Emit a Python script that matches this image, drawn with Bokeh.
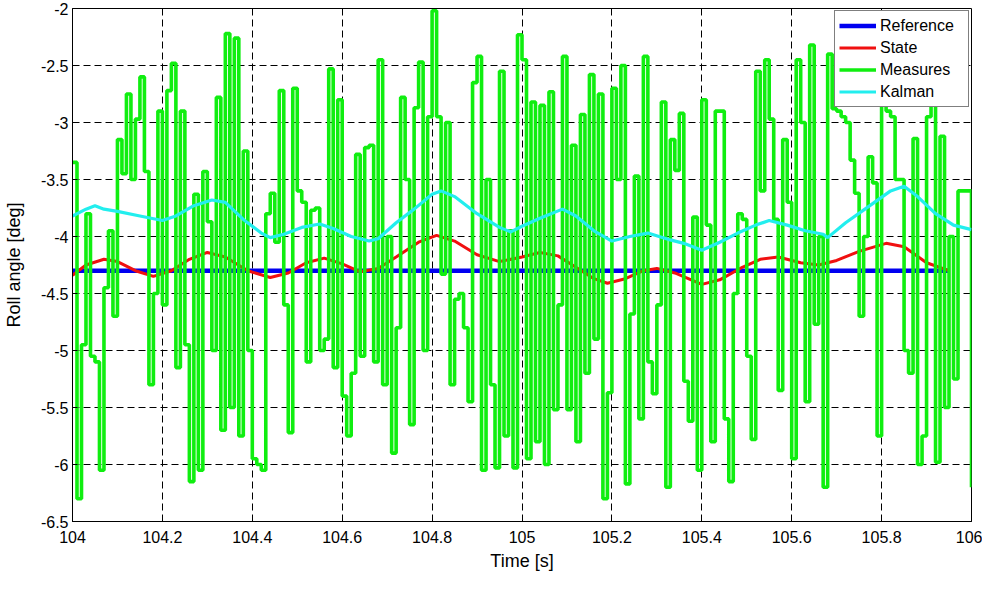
import numpy as np
from bokeh.plotting import figure
from bokeh.models import (FixedTicker, CustomJSTickFormatter, Legend, LegendItem,
                          Range1d)
from bokeh.embed import file_html
from bokeh.resources import INLINE

# ---------------- data ----------------
x_ticks = [104.0, 104.2, 104.4, 104.6, 104.8, 105.0, 105.2, 105.4, 105.6, 105.8, 106.0]
y_ticks = [-6.5, -6.0, -5.5, -5.0, -4.5, -4.0, -3.5, -3.0, -2.5, -2.0]

ref_t = [104.0, 105.95]
ref_v = [-4.3, -4.3]

state_t = [104.00, 104.03, 104.07, 104.10, 104.14, 104.18, 104.22, 104.26, 104.30, 104.34,
           104.39, 104.44, 104.48, 104.52, 104.56, 104.60, 104.64, 104.68, 104.72, 104.77,
           104.81, 104.85, 104.90, 104.95, 105.00, 105.04, 105.08, 105.12, 105.16, 105.19,
           105.23, 105.27, 105.30, 105.34, 105.40, 105.44, 105.49, 105.53, 105.57, 105.62,
           105.66, 105.70, 105.75, 105.81, 105.85, 105.90, 105.95]
state_v = [-4.34, -4.25, -4.20, -4.22, -4.30, -4.35, -4.30, -4.20, -4.14, -4.18,
           -4.30, -4.36, -4.32, -4.23, -4.19, -4.24, -4.31, -4.28, -4.18, -4.05,
           -3.99, -4.04, -4.16, -4.22, -4.18, -4.14, -4.17, -4.27, -4.37, -4.41,
           -4.37, -4.30, -4.28, -4.32, -4.42, -4.38, -4.27, -4.20, -4.18, -4.23,
           -4.25, -4.21, -4.13, -4.06, -4.09, -4.23, -4.30]

meas_t0 = 104.0
meas_dt = 0.01
meas_v = [
    # 104.00 - 104.33
    -3.35, -6.3, -4.95, -3.8, -5.05, -5.1, -6.05, -4.45, -3.95, -4.7,
    -3.15, -3.45, -2.75, -3.5, -2.97, -2.6, -3.43, -5.3, -4.5, -2.9,
    -4.6, -2.72, -2.48, -5.15, -2.9, -4.95, -6.15, -3.63, -6.05, -3.43,
    -3.87, -5.0, -2.78, -5.7,
    # 104.34 - 104.65
    -2.22, -5.5, -2.26, -5.75, -3.25, -5.0, -5.95, -6.0, -6.05, -3.8,
    -3.62, -4.05, -2.72, -4.6, -5.72, -2.7, -3.6, -3.7, -5.1, -3.77,
    -3.75, -5.0, -4.9, -2.53, -5.15, -2.8, -5.4, -5.75, -5.2, -3.28,
    -5.05, -3.22,
    # 104.66 - 104.99
    -3.2, -5.1, -2.45, -5.3, -4.0, -5.9, -4.8, -2.78, -3.5, -5.65,
    -2.87, -2.47, -5.0, -2.95, -2.02, -2.95, -4.33, -3.0, -5.3, -4.55,
    -4.5, -4.8, -5.45, -2.65, -2.42, -6.05, -3.5, -5.3, -6.03, -2.55,
    -5.75, -3.95, -6.03, -2.23,
    # 105.00 - 105.33
    -2.45, -5.95, -2.82, -5.8, -2.85, -6.0, -2.73, -5.52, -4.6, -2.42,
    -5.52, -3.2, -5.8, -2.93, -5.2, -2.58, -4.9, -2.75, -6.3, -5.37,
    -2.7, -3.5, -2.5, -6.17, -4.68, -3.47, -5.6, -2.42, -5.1, -5.38,
    -4.6, -2.82, -6.2, -3.15,
    # 105.34 - 105.66
    -3.42, -2.92, -5.27, -5.62, -3.83, -6.05, -2.8, -3.9, -5.8, -2.9,
    -2.9, -5.6, -6.15, -4.5, -3.8, -3.85, -5.05, -5.78, -2.55, -3.6,
    -2.45, -2.97, -3.85, -5.35, -3.15, -3.7, -5.95, -2.45, -3.0, -5.45,
    -2.32, -4.77, -4.0,
    # 105.67 - 105.99
    -6.2, -2.4, -2.88, -2.9, -2.95, -3.0, -3.33, -3.62, -4.7, -4.0,
    -3.3, -3.53, -5.75, -2.1, -2.9, -2.95, -3.5, -3.5, -5.0, -5.2,
    -3.14, -6.0, -5.75, -2.95, -2.78, -5.98, -3.12, -5.5, -4.0, -5.25,
    -3.6, -3.6, -3.6,
    # 106.00
    -6.2,
]
meas_t = [round(meas_t0 + meas_dt * k, 4) for k in range(len(meas_v))]

kal_t = [104.00, 104.03, 104.05, 104.07, 104.10, 104.15, 104.20, 104.23, 104.27, 104.31,
         104.34, 104.38, 104.42, 104.44, 104.47, 104.51, 104.55, 104.58, 104.62, 104.66,
         104.68, 104.72, 104.76, 104.80, 104.82, 104.85, 104.90, 104.95, 104.975, 105.00,
         105.04, 105.09, 105.12, 105.16, 105.20, 105.24, 105.28, 105.33, 105.36, 105.40,
         105.44, 105.48, 105.52, 105.55, 105.59, 105.63, 105.67, 105.68, 105.72, 105.77,
         105.82, 105.85, 105.88, 105.92, 105.96, 106.00]
kal_v = [-3.82, -3.76, -3.73, -3.76, -3.78, -3.82, -3.86, -3.82, -3.73, -3.68,
         -3.70, -3.85, -3.97, -4.01, -3.98, -3.92, -3.89, -3.93, -4.00, -4.04,
         -4.02, -3.88, -3.76, -3.63, -3.60, -3.65, -3.80, -3.92, -3.96, -3.91,
         -3.84, -3.76, -3.82, -3.95, -4.04, -4.00, -3.97, -4.03, -4.06, -4.12,
         -4.05, -3.97, -3.90, -3.86, -3.90, -3.95, -3.98, -4.01, -3.88, -3.74,
         -3.60, -3.56, -3.65, -3.80, -3.90, -3.94]

labels = ["Reference", "State", "Measures", "Kalman"]
colors = ["#0000F0", "#F01010", "#10EE10", "#22EEEE"]

# ---------------- figure ----------------
FONT = "Liberation Sans"

p = figure(width=982, height=580,
           x_range=Range1d(104, 106), y_range=Range1d(-6.5, -2),
           output_backend="svg", toolbar_location=None,
           min_border_left=71, min_border_right=11,
           min_border_top=8, min_border_bottom=59,
           x_axis_label="Time [s]", y_axis_label="Roll angle [deg]")

p.background_fill_color = "white"
p.border_fill_color = "white"
p.outline_line_color = "black"
p.outline_line_width = 1
p.outline_line_alpha = 1

fmt = CustomJSTickFormatter(code="return String(Math.round(tick*10)/10);")
p.xaxis.ticker = FixedTicker(ticks=x_ticks)
p.yaxis.ticker = FixedTicker(ticks=y_ticks)
p.xaxis.formatter = fmt
p.yaxis.formatter = fmt

for ax in (p.xaxis[0], p.yaxis[0]):
    ax.axis_line_color = "black"
    ax.major_tick_line_color = "black"
    ax.major_tick_in = 5
    ax.major_tick_out = 0
    ax.minor_tick_line_color = None
    ax.major_label_text_font = FONT
    ax.major_label_text_font_size = "16px"
    ax.major_label_text_color = "black"
    ax.axis_label_text_font = FONT
    ax.axis_label_text_font_size = "18px"
    ax.axis_label_text_font_style = "normal"
    ax.axis_label_text_color = "black"

p.xaxis.major_label_standoff = 9
p.xaxis.axis_label_standoff = 5
p.yaxis.major_label_standoff = 4
p.yaxis.axis_label_standoff = 14

for g in (p.xgrid[0], p.ygrid[0]):
    g.grid_line_color = "black"
    g.grid_line_dash = "7 4"
    g.grid_line_width = 1
    g.grid_line_alpha = 1
p.xgrid.ticker = FixedTicker(ticks=x_ticks)
p.ygrid.ticker = FixedTicker(ticks=y_ticks)

r_ref = p.line(ref_t, ref_v, line_color=colors[0], line_width=4.5)
r_state = p.line(state_t, state_v, line_color=colors[1], line_width=3)
r_meas = p.step(meas_t, meas_v, mode="after", line_color=colors[2], line_width=3.6)
r_kal = p.line(kal_t, kal_v, line_color=colors[3], line_width=3.2)

legend = Legend(items=[LegendItem(label=labels[0], renderers=[r_ref]),
                       LegendItem(label=labels[1], renderers=[r_state]),
                       LegendItem(label=labels[2], renderers=[r_meas]),
                       LegendItem(label=labels[3], renderers=[r_kal])],
                location="top_right")
legend.margin = 2
legend.padding = 4
legend.spacing = 1
legend.glyph_width = 37
legend.glyph_height = 21
legend.label_height = 21
legend.label_width = 84
legend.label_standoff = 4
legend.label_text_font = FONT
legend.label_text_font_size = "16px"
legend.label_text_color = "black"
legend.border_line_color = "black"
legend.border_line_width = 1
legend.background_fill_color = "white"
legend.background_fill_alpha = 1
p.add_layout(legend)

open("out.html", "w").write(file_html(p, INLINE))
